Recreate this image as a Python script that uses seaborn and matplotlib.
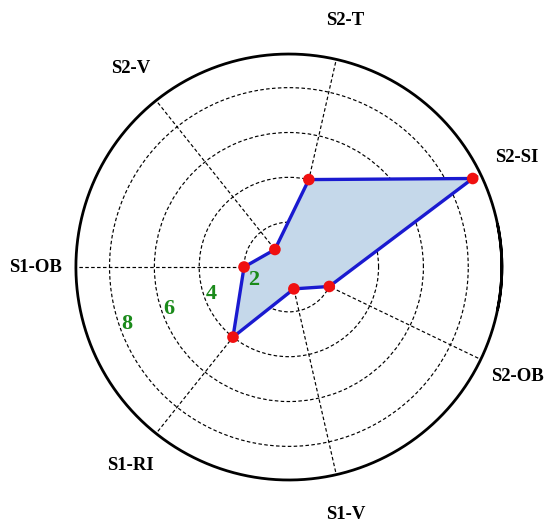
import numpy as np
import matplotlib
matplotlib.use("Agg")
import matplotlib.pyplot as plt
import seaborn as sns

# axes in counter-clockwise order, starting from S2-SI
categories = ["S2-SI", "S2-T", "S2-V", "S1-OB", "S1-RI", "S1-V", "S2-OB"]
values = [9.1, 4.0, 1.0, 2.0, 4.0, 1.0, 2.0]
ring_ticks = [2, 4, 6, 8]
ring_labels = ["2", "4", "6", "8"]
r_max = 9.5

sns.set_theme(style="white")
plt.rcParams["font.family"] = ["Liberation Serif", "DejaVu Serif"]

n = len(categories)
angles = np.deg2rad(180.0 / n + np.arange(n) * 360.0 / n)
theta = np.append(angles, angles[0])
r = np.append(values, values[0])

fig = plt.figure(figsize=(5.5, 5.3), dpi=100)
ax = fig.add_axes([0.138, 0.0943, 0.7745, 0.8038], projection="polar")

ax.fill(theta, r, color="#c5d8ea", zorder=2)
sns.lineplot(x=theta, y=r, sort=False, estimator=None, color="#1a1ad0",
             linewidth=2.4, ax=ax, zorder=3)
sns.scatterplot(x=angles, y=values, color="#f01010", s=70, edgecolor="none",
                ax=ax, zorder=4)

ax.set_ylim(0, r_max)
ax.set_rgrids(ring_ticks, labels=[""] * len(ring_ticks))
ax.set_thetagrids(np.rad2deg(angles), labels=[""] * n)
ax.tick_params(which="both", length=0)
ax.grid(True, color="black", linestyle=(0, (3, 2)), linewidth=0.85)
ax.spines["polar"].set_visible(False)
ax.set_xlabel("")
ax.set_ylabel("")

# closed outer circle (overlapping ends so there is no seam)
circ = np.linspace(-0.2, 2 * np.pi + 0.2, 800)
ax.plot(circ, np.full_like(circ, r_max), color="black", linewidth=2.0,
        clip_on=False, zorder=5)

# category labels outside the circle
for a, lab in zip(angles, categories):
    ax.text(a, 11.3, lab, ha="center", va="center", fontsize=13.5,
            fontweight="bold", color="black", clip_on=False)

# ring value labels
for rv, lab in zip(ring_ticks, ring_labels):
    ax.text(np.deg2rad(199.5), rv - 0.33, lab, ha="center", va="center",
            fontsize=16, fontweight="bold", color="#1a8a1a", zorder=5)

fig.savefig("out.png", dpi=100)
